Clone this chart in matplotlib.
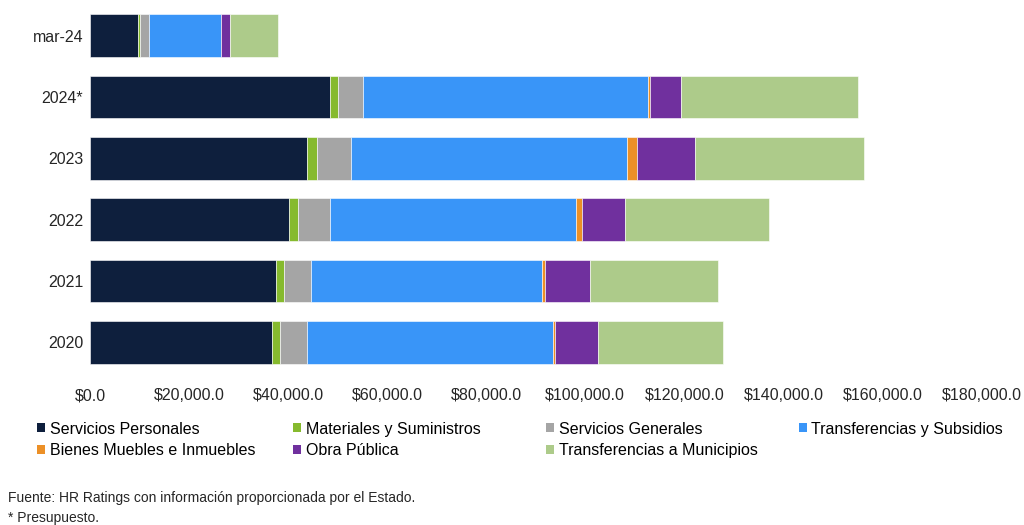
import matplotlib.pyplot as plt
import matplotlib.ticker as mticker
from matplotlib.patches import Patch
import numpy as np

plt.rcParams['font.family'] = ['Liberation Sans', 'DejaVu Sans']

years = ['2020', '2021', '2022', '2023', '2024*', 'mar-24']
series = ['Servicios Personales', 'Materiales y Suministros', 'Servicios Generales',
          'Transferencias y Subsidios', 'Bienes Muebles e Inmuebles', 'Obra Pública',
          'Transferencias a Municipios']
colors = ['#0E1F3D', '#86BA2E', '#A5A5A5', '#3995F8', '#EC9027', '#70309E', '#ADCB8A']

# values (millions of pesos), order follows `years`
serv_personales = [36800, 37600, 40250, 43800, 48450, 9750]
materiales = [1600, 1600, 1700, 1950, 1550, 350]
serv_generales = [5400, 5400, 6450, 6900, 5150, 1900]
transferencias = [49650, 46650, 49650, 55850, 57500, 14350]
bienes_muebles = [450, 550, 1350, 1900, 500, 0]
obra_publica = [8700, 9200, 8600, 11800, 6200, 1900]
transf_municipios = [25300, 25850, 29150, 34050, 35650, 9700]

data = [serv_personales, materiales, serv_generales, transferencias,
        bienes_muebles, obra_publica, transf_municipios]

fig = plt.figure(figsize=(10.24, 5.25), dpi=100)
ax = fig.add_axes([0.0879, 0.2895, 0.8706, 0.701])

y = np.arange(len(years))
left = np.zeros(len(years))
for vals, col, name in zip(data, colors, series):
    vals = np.array(vals, dtype=float)
    ax.barh(y, vals, left=left, height=0.7, color=col, edgecolor='white',
            linewidth=0.4, label=name)
    left += vals

ax.set_xlim(0, 180000)
ax.set_ylim(-0.5, len(years) - 0.5)
ax.set_xticks(np.arange(0, 180001, 20000))
ax.xaxis.set_major_formatter(mticker.FuncFormatter(lambda v, p: f'${v:,.1f}'))
ax.set_yticks(y)
ax.set_yticklabels(years)
for s in ax.spines.values():
    s.set_visible(False)
ax.tick_params(axis='both', length=0, labelsize=11.5, colors='#262626')
ax.tick_params(axis='x', pad=11)
ax.tick_params(axis='y', pad=5)

# legend in four fixed columns, filled row by row
cols = [[0, 4], [1, 5], [2, 6], [3]]
xs = [0.036, 0.286, 0.533, 0.780]
for idx, x0 in zip(cols, xs):
    handles = [Patch(facecolor=colors[i], edgecolor='none') for i in idx]
    fig.legend(handles, [series[i] for i in idx], loc='upper left',
               bbox_to_anchor=(x0, 0.197), frameon=False, fontsize=11.5,
               handlelength=0.5, handleheight=0.5, handletextpad=0.3,
               labelspacing=0.42, borderaxespad=0, borderpad=0)

fig.text(0.008, 0.044, 'Fuente: HR Ratings con información proporcionada por el Estado.',
         fontsize=10, color='#262626')
fig.text(0.008, 0.006, '* Presupuesto.', fontsize=10, color='#262626')

fig.savefig('out.png', dpi=100)
